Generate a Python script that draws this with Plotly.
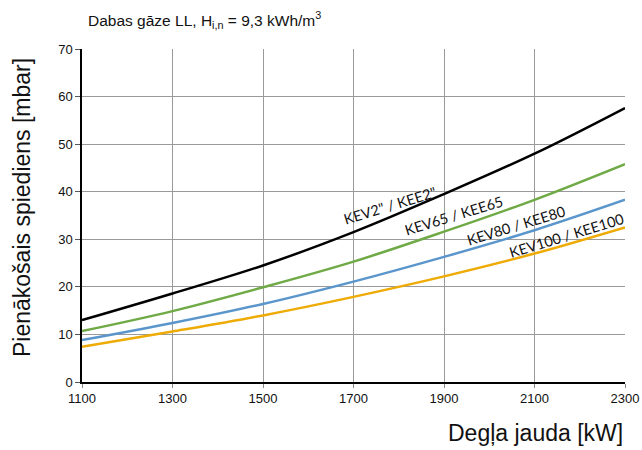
import plotly.graph_objects as go

# Data
power_kw = [1100, 1300, 1500, 1700, 1900, 2100, 2300]
kev2 = [13.0, 18.6, 24.5, 31.5, 39.5, 48.0, 57.6]
kev65 = [10.7, 14.9, 19.9, 25.3, 31.6, 38.3, 45.8]
kev80 = [8.8, 12.4, 16.4, 21.1, 26.3, 31.9, 38.3]
kev100 = [7.4, 10.6, 14.0, 17.9, 22.2, 27.0, 32.5]

series = [
    ("KEV2\" / KEE2\"", kev2, "#000000", 1780, 37.2),
    ("KEV65 / KEE65", kev65, "#6FAA46", 1922, 34.9),
    ("KEV80 / KEE80", kev80, "#5A96CB", 2059, 33.0),
    ("KEV100 / KEE100", kev100, "#EEAB05", 2170, 30.9),
]

fig = go.Figure()
for name, vals, color, lx, ly in series:
    fig.add_trace(go.Scatter(x=power_kw, y=vals, mode="lines", name=name,
                             line=dict(color=color, width=2.5, shape="spline"),
                             showlegend=False))
    fig.add_annotation(x=lx, y=ly, xref="x", yref="y", text=name, showarrow=False,
                       textangle=-17, font=dict(family="Lato", size=14.5, color="#111111"))

fig.add_annotation(x=0.0074, y=1.087, xref="paper", yref="paper", xanchor="left", yanchor="middle",
                   text="Dabas gāze LL, H<sub>i,n</sub> = 9,3 kWh/m<sup>3</sup>", showarrow=False,
                   font=dict(family="Liberation Sans", size=15.5, color="#111111"))
fig.add_annotation(x=1.0, y=-0.153, xref="paper", yref="paper", xanchor="right", yanchor="middle",
                   text="Degļa jauda [kW]", showarrow=False,
                   font=dict(family="Liberation Sans", size=23, color="#111111"))
fig.add_annotation(x=-0.1105, y=0.5255, xref="paper", yref="paper", xanchor="center", yanchor="middle",
                   text="Pienākošais spiediens [mbar]", showarrow=False, textangle=-90,
                   font=dict(family="Liberation Sans", size=23, color="#111111"))

fig.update_xaxes(range=[1100, 2300], tick0=1100, dtick=200, showgrid=True, gridcolor="#9a9a9a",
                 gridwidth=1, showline=True, linecolor="black", linewidth=1.5, ticks="outside",
                 ticklen=4, tickcolor="#888888", zeroline=False, automargin=False,
                 tickfont=dict(family="Liberation Sans", size=13, color="#111111"))
fig.update_yaxes(range=[0, 70], dtick=10, showgrid=True, gridcolor="#9a9a9a", gridwidth=1,
                 showline=True, linecolor="black", linewidth=1.5, ticks="outside", ticklen=5,
                 tickcolor="#555555", zeroline=False, automargin=False,
                 tickfont=dict(family="Liberation Sans", size=13, color="#111111"))

fig.update_layout(width=642, height=450, autosize=False, margin=dict(l=82, r=17, t=49, b=68),
                  plot_bgcolor="white", paper_bgcolor="white")

fig.write_html("out.html", config={"responsive": False, "displayModeBar": False},
               default_width="642px", default_height="450px",
               post_script="document.body.style.margin='0';document.body.style.overflow='hidden';")
